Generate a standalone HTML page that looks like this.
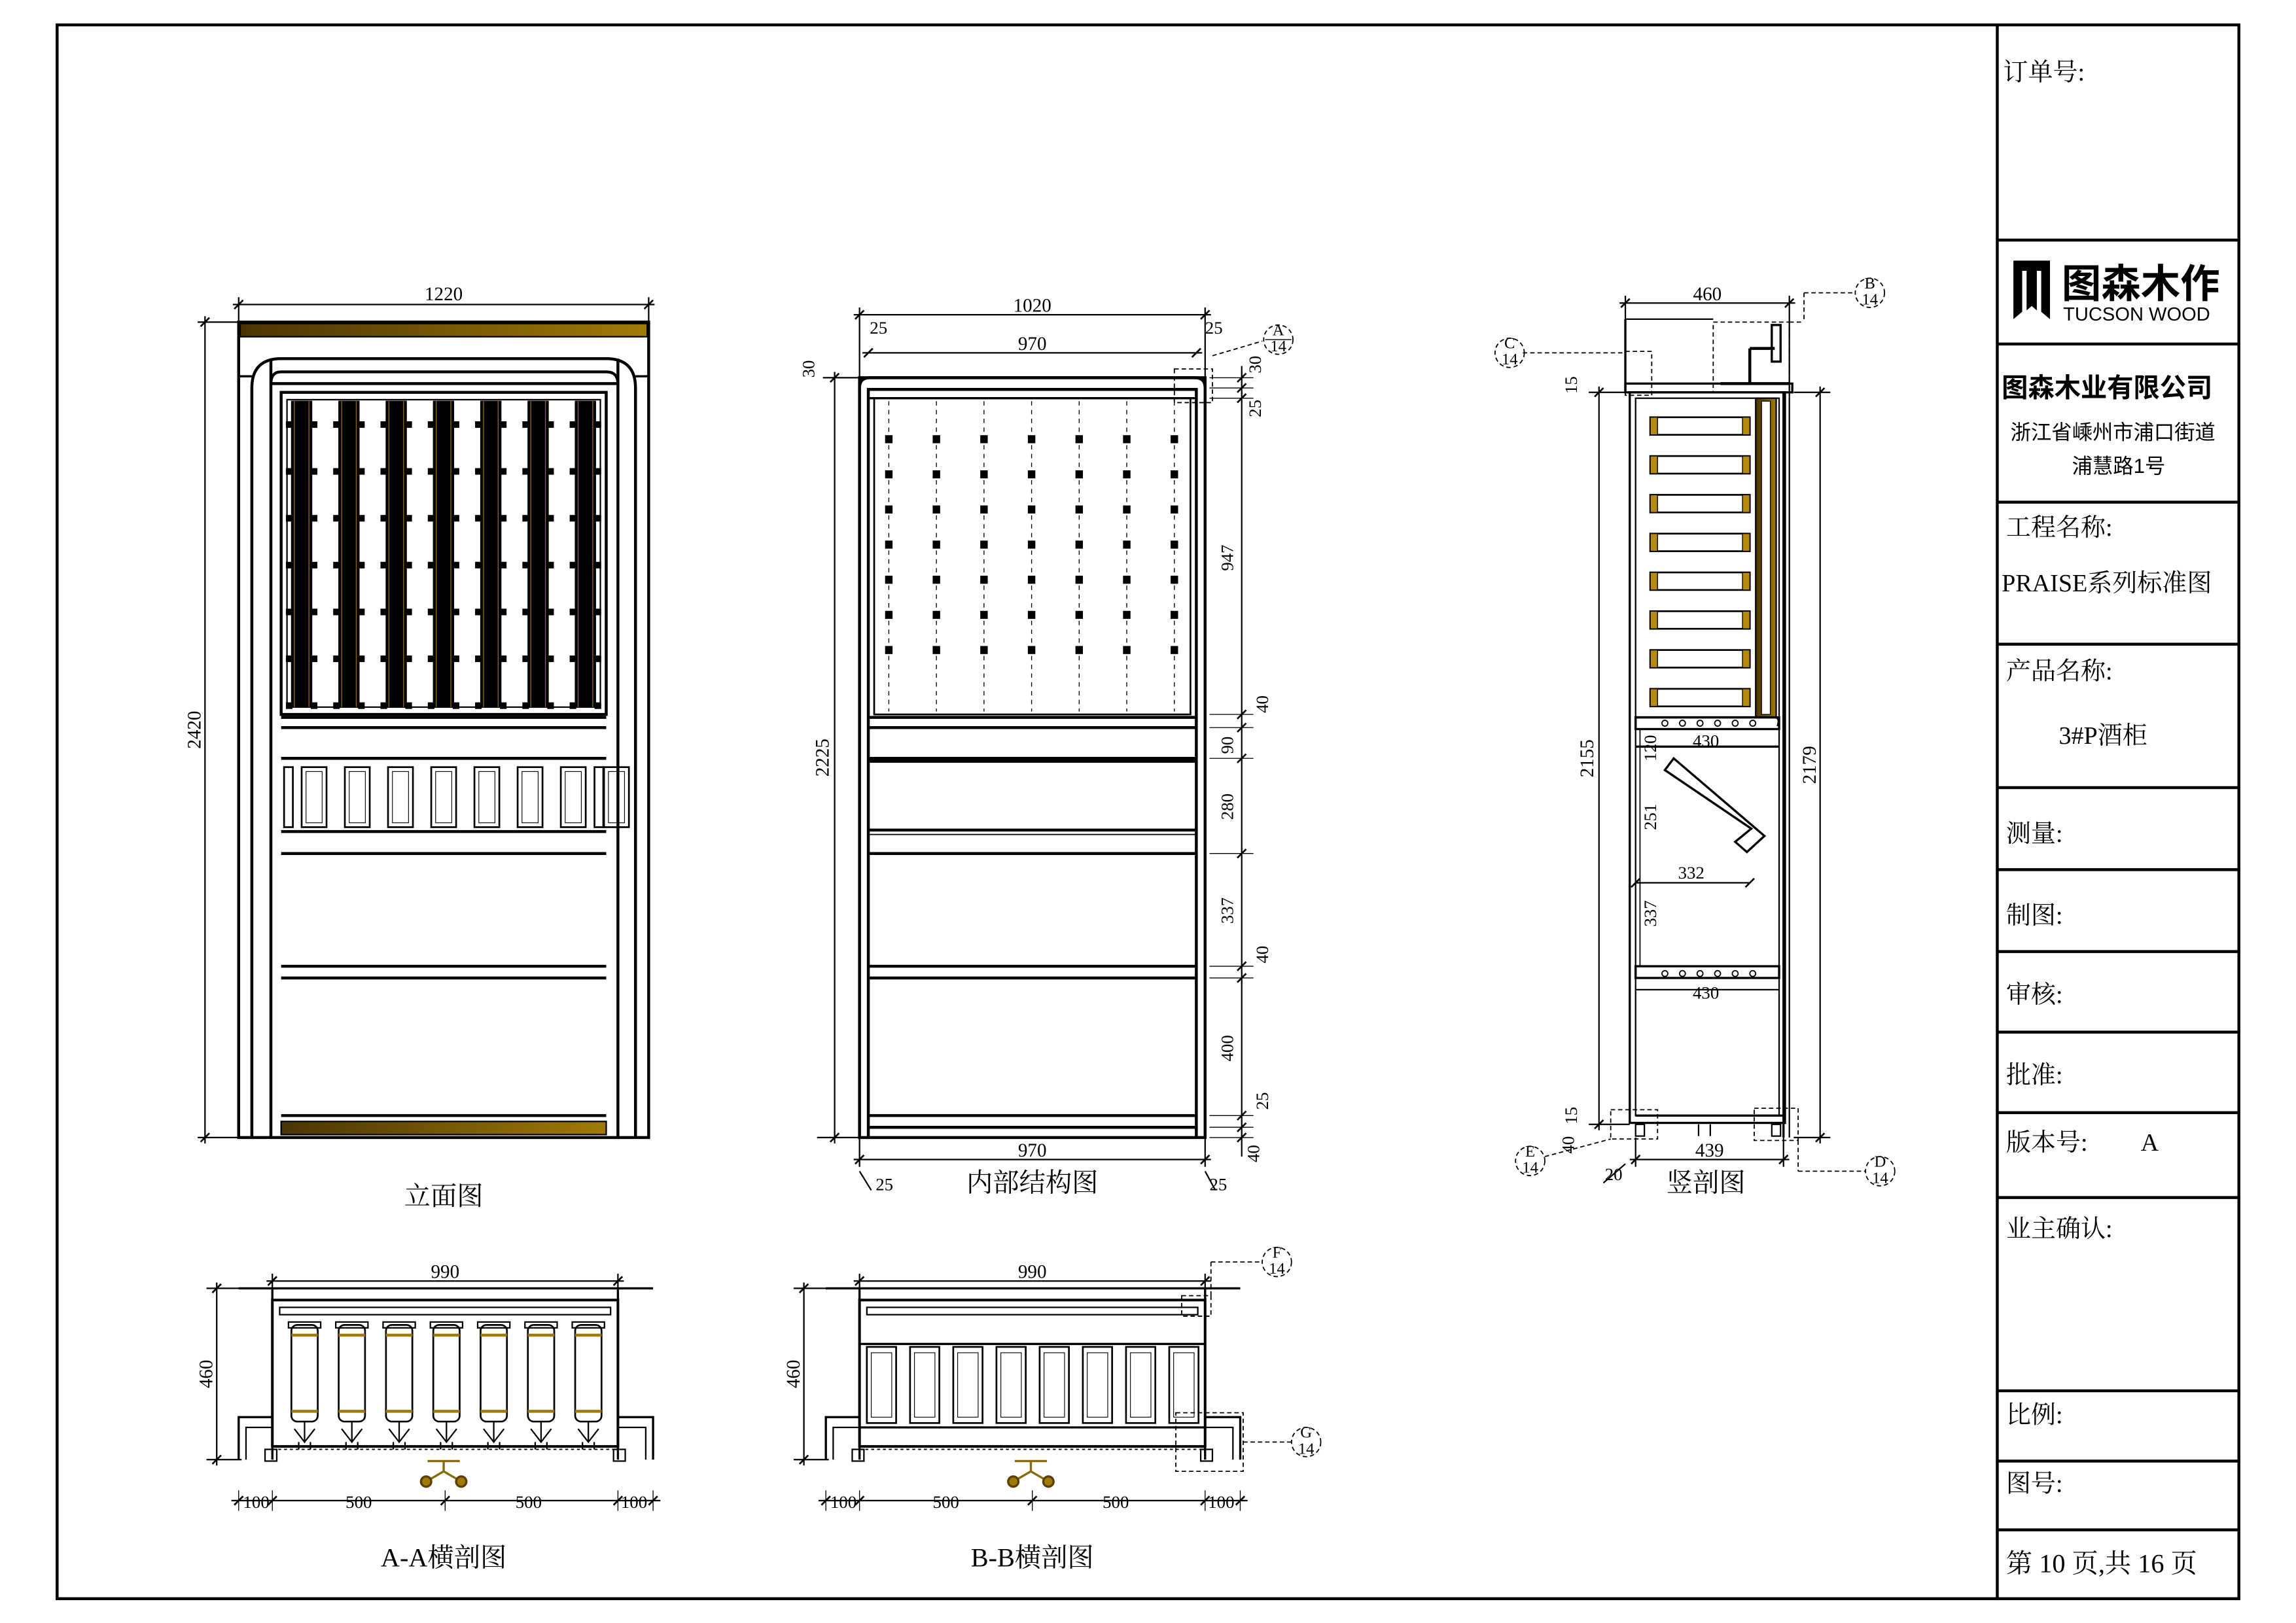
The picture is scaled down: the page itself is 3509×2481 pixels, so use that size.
<!DOCTYPE html>
<html><head><meta charset="utf-8">
<style>
html,body{margin:0;padding:0;background:#fff;}
svg{display:block;}
text{font-family:"Liberation Serif","Noto Serif CJK SC",serif;fill:#000;}
.cn{font-family:"Liberation Serif","Noto Serif CJK SC",serif;}
.sans{font-family:"Liberation Sans","Noto Sans CJK SC",sans-serif;}
</style></head>
<body>
<svg id="s" xmlns="http://www.w3.org/2000/svg" width="3509" height="2481" viewBox="0 0 1568 1108.6" preserveAspectRatio="none">
<defs>
<linearGradient id="g" x1="0" x2="1"><stop offset="0" stop-color="#4a3405"/><stop offset="1" stop-color="#a07a08"/></linearGradient>
</defs>
<g fill="none" stroke="#000" stroke-width="2">
<rect x="39" y="17" width="1490" height="1075"/>
<line x1="1364" y1="17" x2="1364" y2="1092"/>
<path d="M1364 164H1529M1364 235H1529M1364 343H1529M1364 440H1529M1364 538H1529M1364 594H1529M1364 650H1529M1364 705H1529M1364 760H1529M1364 818H1529M1364 950H1529M1364 998H1529M1364 1045H1529"/>
</g>
<g class="cn" font-size="17">
<text x="1368" y="55" class="cn">订单号:</text>
<text x="1370" y="366" class="cn">工程名称:</text>
<text x="1367" y="404" font-size="17">PRAISE系列标准图</text>
<text x="1370" y="464" class="cn">产品名称:</text>
<text x="1406" y="508">3#P酒柜</text>
<text x="1370" y="575" class="cn">测量:</text>
<text x="1370" y="631" class="cn">制图:</text>
<text x="1370" y="685" class="cn">审核:</text>
<text x="1370" y="740" class="cn">批准:</text>
<text x="1370" y="786" class="cn">版本号:</text><text x="1462" y="786">A</text>
<text x="1370" y="845" class="cn">业主确认:</text>
<text x="1370" y="972" class="cn">比例:</text>
<text x="1370" y="1019" class="cn">图号:</text>
<text x="1370" y="1074" font-size="18">第 10 页,共 16 页</text>
<text x="1367" y="271" font-size="18" font-weight="bold" class="sans">图森木业有限公司</text>
<text x="1373" y="300" font-size="14" class="sans">浙江省嵊州市浦口街道</text>
<text x="1415" y="323" font-size="14" class="sans">浦慧路1号</text>
<text x="1408" y="203" font-size="27" font-weight="bold" class="sans">图森木作</text>
<text x="1409" y="219" font-size="13" class="sans">TUCSON WOOD</text>
</g>
<path d="M1375 178H1400V218L1394 213V185H1391V212L1387.5 209L1384 212V185H1381V213L1375 218Z" fill="#000"/>
<g id="draw" fill="none" stroke="#000" stroke-width="1.5"></g>
<g id="txt" font-size="13"></g>
</svg>
<script>
const d=document.getElementById('draw'),T=document.getElementById('txt');
const NS='http://www.w3.org/2000/svg';
function el(t,a,p){const e=document.createElementNS(NS,t);for(const k in a)e.setAttribute(k,a[k]);(p||d).appendChild(e);return e;}
function L(x1,y1,x2,y2,w,c,da){const o={x1,y1,x2,y2};if(w)o['stroke-width']=w;if(c)o.stroke=c;if(da)o['stroke-dasharray']=da;el('line',o);}
function R(x,y,w,h,sw,f){const o={x,y,width:w,height:h};if(sw)o['stroke-width']=sw;if(f)o.fill=f;el('rect',o);}
function tx(x,y,s,sz,rot,anchor,cls){const o={x,y};if(sz)o['font-size']=sz;if(rot)o.transform=`rotate(-90 ${x} ${y})`;o['text-anchor']=anchor||'middle';if(cls)o['class']=cls;const e=el('text',o,T);e.textContent=s;}
function tick(x,y){L(x-3,y+3,x+3,y-3,1.2);}
function hd(x1,x2,y,lab,ty){L(x1-4,y,x2+4,y,1);tick(x1,y);tick(x2,y);if(lab)tx((x1+x2)/2,ty||y-3,lab,13);}
function vd(x,y1,y2,lab,tx_){L(x,y1-4,x,y2+4,1);tick(x,y1);tick(x,y2);if(lab)tx(tx_||x-3,(y1+y2)/2,lab,13,true);}

hd(163,443,208,'1220');L(163,203,163,220,1);L(443,203,443,220,1);
vd(140,220,777,'2420',137);L(135,220,163,220,1);L(135,777,163,777,1);
R(163,220,280,557,2);
R(164,221,278,9,1,'url(#g)');R(192,766,222,9,1,'url(#g)');
el('path',{d:'M172 777V265Q172 245 192 245H414Q434 245 434 265V777','stroke-width':2});
el('path',{d:'M163 257H172M434 257H443'});
L(185,245,185,777,2);L(422,245,422,777,2);
el('path',{d:'M185 262Q185 254 192 254H414Q422 254 422 262','stroke-width':2});
L(185,262,422,262,2);
R(192,268,222,220,2);R(196,273,214,210,1);
for(let i=0;i<7;i++){const x=199+i*32.3;R(x,274,14,209,0.5,'#000');L(x+2,274,x+2,483,0.6,'#8a6a08');L(x+12,274,x+12,483,0.6,'#8a6a08');
 for(let j=0;j<7;j++){const y=290+j*32;R(x-3,y-1.5,3,3,0,'#000');R(x+14,y-1.5,3,3,0,'#000');}}
[490,497,518,568,583,660,668,762].forEach(y=>L(192,y,414,y,2));
for(let i=0;i<8;i++){const x=206+i*29.5;R(x,524,17,41,1.2);R(x+3,527,11,35,0.5,'none');}
R(194,524,6,41,1.2);R(406,524,6,41,1.2);
tx(303,823,'立面图',18,false,'middle','cn');

hd(587,823,215,'1020',213);L(587,210,587,258,1);L(823,210,823,258,1);
hd(593,817,241,'970',239);
tx(600,228,'25',12);tx(829,228,'25',12);
R(587,258,236,519,2);
L(593,265,593,777,2);L(817,265,817,777,2);
el('path',{d:'M587 265Q587 258 594 258H816Q823 258 823 265','stroke-width':2});
L(593,266,817,266,2);L(593,272,817,272,1.5);
R(597,272,216,216,1.2);
for(let i=0;i<7;i++){const x=607+i*32.5;L(x,274,x,486,0.6,'#000','3 3');for(let j=0;j<7;j++)R(x-1.8,298+j*24,3.6,4,0,'#000');}
[490,497,518,520,567,570,583,660,668,762,770].forEach(y=>L(593,y,817,y,y==570?0.8:2));
hd(587,823,792,'970',790);L(587,777,587,797,1);L(823,777,823,797,1);
tx(604,813,'25',12);tx(832,813,'25',12);
L(587,800,595,813,1);L(823,800,830,813,1);
vd(570,258,777,'2225',566);L(562,258,587,258,1);L(558,777,587,777,1);
tx(556,252,'30',12,true);
L(848,250,848,790,1);
[258,265,272,488,497,518,583,660,668,762,770,777].forEach(y=>{tick(848,y);L(826,y,856,y,0.6);});
tx(861,249,'30',12,true);tx(861,279,'25',12,true);tx(842,381,'947',12,true);tx(866,481,'40',12,true);
tx(842,509,'90',12,true);tx(842,551,'280',12,true);tx(842,622,'337',12,true);tx(866,652,'40',12,true);
tx(842,716,'400',12,true);tx(866,752,'25',12,true);tx(860,788,'40',12,true);
R(802,252,26,23,0.8,'none');d.lastChild.setAttribute('stroke-dasharray','3 2');
L(828,243,862,233,0.8,'#000','3 2');
el('circle',{cx:873,cy:232,r:10,'stroke-dasharray':'3 2','stroke-width':0.8});tx(873,229,'A',11);tx(873,240,'14',11);L(864,232,882,232,0.6);
tx(705,814,'内部结构图',18,false,'middle','cn');

hd(1110,1222,207,'460',205);L(1110,202,1110,268,1);L(1222,202,1222,220,1);
L(1110,218,1110,268,1.5);L(1110,218,1170,218,1);
R(1113,268,106,499,1.5);R(1117,272,98,490,1);
L(1218,268,1218,777,1.5);L(1222,220,1222,777,1);
R(1210,222,6,25,1.5);L(1195,238,1212,238,2);L(1195,238,1195,262,2);L(1175,262,1222,262,2);R(1110,262,114,6,1.5);
R(1199,272,14,218,1,'url(#g)');R(1203,274,6,214,0.6,'#fff');
for(let i=0;i<8;i++){const y=285+i*26.5;R(1127,y,68,12,1.2);R(1127,y,5,12,0.6,'#b58a10');R(1190,y,5,12,0.6,'#b58a10');}
R(1117,490,98,8,1.5);el('path',{d:'M1117 490H1212Q1216 490 1214 496'});
for(let i=0;i<6;i++)el('circle',{cx:1137+i*12,cy:494,r:2,'stroke-width':0.8});
L(1117,510,1215,510,1.5);
el('path',{d:'M1137 526L1143 518L1205 571L1193 582L1185 575L1196 566Z','stroke-width':1.5});
L(1117,603,1195,603,1);tick(1117,603);tick(1195,603);tx(1155,600,'332',12);
R(1117,660,98,8,1.5);for(let i=0;i<6;i++)el('circle',{cx:1137+i*12,cy:665,r:2,'stroke-width':0.8});
L(1117,676,1215,676,1);tx(1165,682,'430',12);tx(1165,510,'430',12);
L(1117,762,1218,762,1.5);R(1117,768,6,8,1);R(1210,768,6,8,1);
vd(1092,268,768,'2155',1088);L(1085,268,1113,268,1);L(1085,768,1113,768,1);
tx(1077,263,'15',12,true);tx(1077,762,'15',12,true);tx(1075,782,'40',12,true);
vd(1243,268,777,'2179',1240);L(1225,268,1250,268,1);L(1225,777,1250,777,1);
L(1120,498,1120,660,0.8);tx(1131,511,'120',12,true);tx(1131,558,'251',12,true);tx(1131,624,'337',12,true);
hd(1117,1218,792,'439',790);L(1117,777,1117,797,1);L(1218,777,1218,797,1);
tx(1102,806,'20',12);L(1095,808,1110,795,1);
L(1160,768,1160,776,1);L(1168,768,1168,776,1);
const dd='3 2';
R(1170,220,52,48,0.8);d.lastChild.setAttribute('stroke-dasharray',dd);
L(1222,220,1232,220,0.8,'#000',dd);L(1232,200,1232,220,0.8,'#000',dd);L(1232,200,1266,200,0.8,'#000',dd);
el('circle',{cx:1277,cy:200,r:10,'stroke-dasharray':dd,'stroke-width':0.8});tx(1277,197,'B',11);tx(1277,208,'14',11);
R(1110,240,18,30,0.8);d.lastChild.setAttribute('stroke-dasharray',dd);L(1040,241,1110,241,0.8,'#000',dd);
el('circle',{cx:1031,cy:241,r:10,'stroke-dasharray':dd,'stroke-width':0.8});tx(1031,238,'C',11);tx(1031,249,'14',11);
R(1100,758,32,20,0.8);d.lastChild.setAttribute('stroke-dasharray',dd);L(1055,790,1100,778,0.8,'#000',dd);
el('circle',{cx:1045,cy:793,r:10,'stroke-dasharray':dd,'stroke-width':0.8});tx(1045,790,'E',11);tx(1045,801,'14',11);
R(1198,757,30,22,0.8);d.lastChild.setAttribute('stroke-dasharray',dd);L(1228,800,1274,800,0.8,'#000',dd);L(1228,779,1228,800,0.8,'#000',dd);
el('circle',{cx:1284,cy:800,r:10,'stroke-dasharray':dd,'stroke-width':0.8});tx(1284,797,'D',11);tx(1284,808,'14',11);
tx(1165,814,'竖剖图',18,false,'middle','cn');

function plan(x0,isA){
 hd(x0+23,x0+259,875,'990',873);L(x0+23,870,x0+23,890,1);L(x0+259,870,x0+259,890,1);
 vd(x0-15,880,997,'460',x0-18);L(x0-22,880,x0+2,880,1);L(x0-22,997,x0+2,997,1);
 L(x0,880,x0+283,880,1.5);
 R(x0+23,888,236,100,1.8);R(x0+28,893,226,5,1);
 L(x0+23,880,x0+23,997,1.5);L(x0+259,880,x0+259,997,1.5);
 el('path',{d:`M${x0} 997V968H${x0+23}M${x0+259} 968H${x0+283}V997`,'stroke-width':1.5});
 el('path',{d:`M${x0+5} 997V975H${x0+23}M${x0+259} 975H${x0+278}V997`,'stroke-width':1});
 L(x0+23,990,x0+259,990,0.8,'#000','2 2');
 R(x0+18,990,8,8,1);R(x0+256,990,8,8,1);
 if(isA){for(let i=0;i<7;i++){const x=x0+36+i*32.3;el('rect',{x,y:905,width:18,height:66,rx:4,'stroke-width':1.2,fill:'#fff'});
   L(x,912,x+18,912,2,'#a07a08');L(x,964,x+18,964,2,'#a07a08');R(x-2,903,22,4,1);
   el('path',{d:`M${x+9} 971V985M${x+2} 976L${x+9} 985L${x+16} 976M${x+5} 985V990M${x+13} 985V990`,'stroke-width':1});}}
 else{for(let i=0;i<8;i++){const x=x0+28+i*29.5;R(x,920,20,52,1.2);R(x+3,924,14,44,0.5);}
   L(x0+23,918,x0+259,918,1.5);L(x0+23,975,x0+259,975,1.5);}
 const hx=x0+140;el('path',{d:`M${hx-11} 998H${hx+11}M${hx} 998V1005M${hx} 1005L${hx-12} 1012M${hx} 1005L${hx+12} 1012`,'stroke-width':1.5,stroke:'#8a6a08'});
 el('circle',{cx:hx-12,cy:1012,r:3.5,fill:'#a07a08',stroke:'#5a4005'});el('circle',{cx:hx+12,cy:1012,r:3.5,fill:'#a07a08',stroke:'#5a4005'});
 L(x0-5,1025,x0+288,1025,1);[0,23,141,259,283].forEach(v=>{tick(x0+v,1025);L(x0+v,1018,x0+v,1032,0.6);});
 tx(x0+12,1030,'100',12);tx(x0+82,1030,'500',12);tx(x0+198,1030,'500',12);tx(x0+270,1030,'100',12);
}
plan(163,true);tx(303,1070,'A-A横剖图',18,false,'middle');
plan(564,false);tx(705,1070,'B-B横剖图',18,false,'middle');
R(807,885,20,14,0.8);d.lastChild.setAttribute('stroke-dasharray','3 2');L(827,862,862,862,0.8,'#000','3 2');L(827,862,827,885,0.8,'#000','3 2');
el('circle',{cx:872,cy:862,r:10,'stroke-dasharray':'3 2','stroke-width':0.8});tx(872,859,'F',11);tx(872,870,'14',11);
R(803,965,46,40,0.8);d.lastChild.setAttribute('stroke-dasharray','3 2');L(849,985,882,985,0.8,'#000','3 2');
el('circle',{cx:892,cy:985,r:10,'stroke-dasharray':'3 2','stroke-width':0.8});tx(892,982,'G',11);tx(892,993,'14',11);
</script>
</body></html>
